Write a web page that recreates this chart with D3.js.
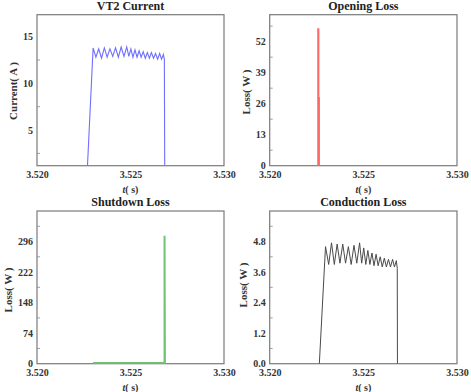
<!DOCTYPE html>
<html><head><meta charset="utf-8">
<script src="https://cdn.jsdelivr.net/npm/d3@7"></script>
<style>
body{margin:0;background:#fff;}
text{font-family:"Liberation Serif","Times New Roman",serif;}
</style></head>
<body><svg id="c" width="471" height="392"></svg>
<script>
// ---- data ----
const xTicks = [3.520, 3.525, 3.530];
const currentT = [3.52270,3.52300,3.52315,3.52330,3.52345,3.52360,3.52375,3.52390,3.52405,3.52420,3.52435,3.52450,3.52465,3.52480,3.52491,3.52502,3.52513,3.52524,3.52535,3.52546,3.52557,3.52568,3.52579,3.52590,3.52601,3.52612,3.52623,3.52634,3.52645,3.52656,3.52666,3.52676,3.52681,3.52683];
const currentI = [1.2,13.8,12.8,13.7,12.7,13.8,12.8,13.7,12.9,13.8,12.8,13.9,12.9,13.9,12.9,13.7,12.8,13.6,12.8,13.5,12.8,13.4,12.7,13.3,12.7,13.3,12.7,13.2,12.6,13.2,12.6,13.1,12.6,1.2];
const currentTicks = [5, 10, 15];
const openT = [3.52258,3.52258,3.52261,3.52261,3.52264,3.52264];
const openLoss = [0,57.3,57.3,28.5,28.5,0];
const openTicks = [0, 13, 26, 39, 52];
const shutT = [3.52300,3.52682,3.52682,3.52684];
const shutLoss = [1.5,1.5,310,0];
const shutTicks = [0, 74, 148, 222, 296];
const condT = [3.52265,3.52298,3.52315,3.52330,3.52345,3.52360,3.52375,3.52390,3.52405,3.52420,3.52435,3.52450,3.52465,3.52480,3.52491,3.52502,3.52513,3.52524,3.52535,3.52546,3.52557,3.52568,3.52579,3.52590,3.52601,3.52612,3.52623,3.52634,3.52645,3.52656,3.52666,3.52676,3.52681,3.52682];
const condLoss = [0,4.6,3.9,4.75,3.9,4.7,3.95,4.7,3.95,4.6,3.9,4.65,3.95,4.75,3.95,4.55,3.9,4.45,3.9,4.35,3.85,4.3,3.85,4.2,3.8,4.15,3.8,4.1,3.8,4.1,3.8,4.05,3.75,0];
const condTicks = [0, 1.2, 2.4, 3.6, 4.8];

const svg = d3.select("#c");
const FONT = "'Liberation Serif','Times New Roman',serif";

function panel(o){
  const x = d3.scaleLinear().domain([3.520,3.530]).range([o.l,o.r]);
  const y = d3.scaleLinear().domain(o.yd).range([o.b,o.t]);
  const g = svg.append("g");
  const id = "clip"+o.id;
  svg.append("clipPath").attr("id",id).append("rect")
    .attr("x",o.l).attr("y",o.t).attr("width",o.r-o.l).attr("height",o.b-o.t);
  g.append("rect").attr("x",o.l).attr("y",o.t).attr("width",o.r-o.l).attr("height",o.b-o.t)
    .attr("fill","none").attr("stroke","#7a7a7a").attr("stroke-width",1.2);
  const step = o.ticks[1]-o.ticks[0];
  const minors = [];
  for (let v = o.ticks[0]-step/2; v < o.yd[1]; v += step) if (v>o.yd[0]) minors.push(v);
  g.selectAll(".mt").data(minors).enter().append("line")
    .attr("x1",o.l).attr("x2",o.l+3).attr("y1",d=>y(d)).attr("y2",d=>y(d))
    .attr("stroke","#888").attr("stroke-width",0.8);
  const ya = d3.axisLeft(y).tickValues(o.ticks).tickSize(0).tickPadding(4).tickFormat(o.fmt);
  const ag = g.append("g").attr("transform",`translate(${o.l},0)`).call(ya);
  ag.select(".domain").remove();
  ag.selectAll("text").attr("font-size",10).attr("font-weight","bold").attr("fill","#333")
    .attr("font-family",FONT);
  const xa = d3.axisBottom(x).tickValues(xTicks).tickSize(0).tickPadding(5).tickFormat(d3.format(".3f"));
  const xg = g.append("g").attr("transform",`translate(0,${o.b})`).call(xa);
  xg.select(".domain").remove();
  xg.selectAll("text").attr("font-size",10).attr("font-weight","bold").attr("fill","#333")
    .attr("font-family",FONT);
  g.append("text").attr("x",(o.l+o.r)/2).attr("y",o.t-5).attr("text-anchor","middle")
    .attr("font-size",12).attr("font-weight","bold").attr("fill","#222").text(o.title);
  const xl = g.append("text").attr("x",(o.l+o.r)/2).attr("y",o.b+27).attr("text-anchor","middle")
    .attr("font-size",10).attr("font-weight","bold").attr("fill","#333");
  xl.append("tspan").attr("font-style","italic").text("t");
  xl.append("tspan").text("(  s)");
  g.append("text").attr("transform",`translate(${o.ylx},${o.yly}) rotate(-90)`)
    .attr("text-anchor","middle").attr("font-size",11).attr("font-weight","bold").attr("fill","#333")
    .text(o.ylabel);
  const pts = o.tx.map((t,i)=>[t,o.vy[i]]);
  g.append("path").datum(pts).attr("clip-path",`url(#${id})`)
    .attr("d",d3.line().x(d=>x(d[0])).y(d=>y(d[1])))
    .attr("fill","none").attr("stroke",o.color).attr("stroke-width",o.sw);
}

panel({id:1,l:37,r:224,t:14.7,b:165.7,yd:[1.18,17.36],ticks:currentTicks,fmt:d3.format("d"),
  title:"VT2 Current",ylabel:"Current( A )",ylx:17,yly:91,tx:currentT,vy:currentI,color:"#6e6eff",sw:1.1});
panel({id:2,l:269.7,r:457,t:14.7,b:165.7,yd:[0,63.3],ticks:openTicks,fmt:d3.format("d"),
  title:"Opening Loss",ylabel:"Loss( W )",ylx:250,yly:92,tx:openT,vy:openLoss,color:"#ff6868",sw:1.6});
panel({id:3,l:37,r:224,t:211,b:363.7,yd:[0,370],ticks:shutTicks,fmt:d3.format("d"),
  title:"Shutdown Loss",ylabel:"Loss( W )",ylx:12,yly:290,tx:shutT,vy:shutLoss,color:"#72c275",sw:2});
panel({id:4,l:269.7,r:457,t:211,b:363.7,yd:[0,6],ticks:condTicks,fmt:d3.format(".1f"),
  title:"Conduction Loss",ylabel:"Loss( W )",ylx:247,yly:285,tx:condT,vy:condLoss,color:"#4a4a4a",sw:1});
</script></body></html>
